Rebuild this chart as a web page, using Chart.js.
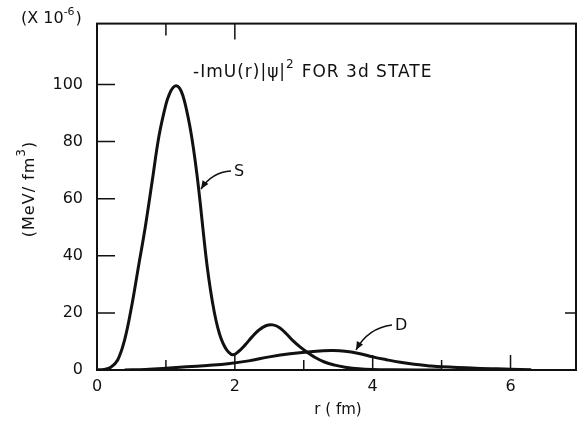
<!DOCTYPE html>
<html>
<head>
<meta charset="utf-8">
<script src="https://cdn.jsdelivr.net/npm/chart.js@4.4.1/dist/chart.umd.min.js"></script>
<style>
  html, body { margin: 0; padding: 0; background: #fff; }
  #wrap { width: 583px; height: 423px; }
</style>
</head>
<body>
<div id="wrap"><canvas id="chart" width="583" height="423"></canvas></div>
<script>
// S curve: r (fm) and -ImU|psi|^2 (x 10^-6 MeV/fm^3)
const sR = [0, 0.1, 0.2, 0.3, 0.4, 0.5, 0.6, 0.7, 0.8, 0.9, 1.0, 1.05, 1.1, 1.15, 1.2, 1.25, 1.3, 1.35, 1.4, 1.45, 1.5, 1.55, 1.6, 1.65, 1.7, 1.75, 1.8, 1.85, 1.9, 1.97, 2.05, 2.15, 2.25, 2.35, 2.45, 2.55, 2.65, 2.75, 2.85, 2.95, 3.05, 3.15, 3.3, 3.45, 3.6, 3.8, 4.0, 4.3, 5.0];
const sVal = [0, 0.2, 1.0, 3.5, 10.5, 22, 36, 50, 66, 82, 93, 96.6, 98.8, 99.5, 98.6, 95.8, 91, 85, 77.5, 68.5, 58, 46.5, 36, 27.5, 20.5, 15, 11, 8.3, 6.5, 5.3, 6.4, 8.8, 11.6, 14, 15.5, 15.8, 14.8, 12.6, 10.1, 8, 6.2, 4.6, 2.8, 1.7, 1.0, 0.4, 0.15, 0.05, 0];

// D curve
const dR = [0.4, 0.7, 1.0, 1.3, 1.6, 1.9, 2.2, 2.5, 2.8, 3.1, 3.4, 3.6, 3.8, 4.0, 4.2, 4.4, 4.6, 4.8, 5.0, 5.5, 6.0, 6.3];
const dVal = [0, 0.2, 0.6, 1.1, 1.6, 2.2, 3.2, 4.6, 5.7, 6.4, 6.8, 6.6, 5.8, 4.6, 3.6, 2.7, 2.0, 1.5, 1.1, 0.6, 0.3, 0.1];

const xTickLabels = [0, 2, 4, 6];
const yTickLabels = [0, 20, 40, 60, 80, 100];

const toPoints = (xs, ys) => xs.map((x, i) => ({ x: x, y: ys[i] }));

const FONT = '"DejaVu Sans", sans-serif';

const decor = {
    id: 'decor',
    afterDraw(chart) {
        const ctx = chart.ctx;
        const a = chart.chartArea;
        const xs = chart.scales.x;
        const ys = chart.scales.y;
        ctx.save();
        ctx.strokeStyle = '#111';
        ctx.fillStyle = '#111';

        // frame
        ctx.lineWidth = 2;
        ctx.strokeRect(a.left, a.top, a.right - a.left, a.bottom - a.top);

        // inward ticks
        ctx.lineWidth = 1.5;
        ctx.beginPath();
        [20, 40, 60, 80, 100].forEach(v => {
            const y = ys.getPixelForValue(v);
            ctx.moveTo(a.left, y); ctx.lineTo(a.left + 18, y);
        });
        [1, 2, 3, 4, 5, 6].forEach(v => {
            const x = xs.getPixelForValue(v);
            const len = v % 2 === 0 ? 15 : 10;
            ctx.moveTo(x, a.bottom); ctx.lineTo(x, a.bottom - len);
        });
        [1, 2].forEach(v => {
            const x = xs.getPixelForValue(v);
            const len = v % 2 === 0 ? 16 : 12;
            ctx.moveTo(x, a.top); ctx.lineTo(x, a.top + len);
        });
        const y20 = ys.getPixelForValue(20);
        ctx.moveTo(a.right, y20); ctx.lineTo(a.right - 11, y20);
        ctx.stroke();

        // arrows
        function arrow(x0, y0, cx, cy, x1, y1) {
            ctx.lineWidth = 1.5;
            ctx.beginPath();
            ctx.moveTo(x0, y0);
            ctx.quadraticCurveTo(cx, cy, x1, y1);
            ctx.stroke();
            const ang = Math.atan2(y1 - cy, x1 - cx);
            ctx.beginPath();
            ctx.moveTo(x1, y1);
            ctx.lineTo(x1 - 9 * Math.cos(ang - 0.4), y1 - 9 * Math.sin(ang - 0.4));
            ctx.lineTo(x1 - 9 * Math.cos(ang + 0.4), y1 - 9 * Math.sin(ang + 0.4));
            ctx.closePath();
            ctx.fill();
        }
        arrow(231, 171, 212, 172, 201, 189);
        arrow(392, 325, 368, 328, 356, 350);

        ctx.textBaseline = 'middle';
        ctx.textAlign = 'left';
        ctx.font = '16px ' + FONT;
        ctx.fillText('S', 234, 172);
        ctx.fillText('D', 395, 326);

        // title
        ctx.letterSpacing = '1px';
        ctx.font = '17px ' + FONT;
        let t1 = '-ImU(r)|\u03c8|';
        let x = 193;
        ctx.fillText(t1, x, 73);
        x += ctx.measureText(t1).width;
        ctx.font = '12px ' + FONT;
        ctx.fillText('2', x, 65);
        x += ctx.measureText('2').width + 7;
        ctx.font = '17px ' + FONT;
        ctx.fillText('FOR 3d STATE', x, 73);

        // multiplier
        ctx.letterSpacing = '0px';
        ctx.font = '16px ' + FONT;
        x = 21;
        ctx.fillText('(X 10', x, 19);
        x += ctx.measureText('(X 10').width;
        ctx.font = '11px ' + FONT;
        ctx.fillText('-6', x, 12);
        x += ctx.measureText('-6').width + 1;
        ctx.font = '16px ' + FONT;
        ctx.fillText(')', x, 19);

        // x title
        ctx.font = '15px ' + FONT;
        ctx.textAlign = 'center';
        ctx.fillText('r ( fm)', 338, 410);

        // y title
        ctx.save();
        ctx.translate(30, 189);
        ctx.rotate(-Math.PI / 2);
        ctx.textAlign = 'left';
        ctx.letterSpacing = '1px';
        ctx.font = '16px ' + FONT;
        const p1 = '(MeV/ fm';
        const w1 = ctx.measureText(p1).width;
        ctx.font = '12px ' + FONT;
        const w2 = ctx.measureText('3').width;
        ctx.font = '16px ' + FONT;
        const w3 = ctx.measureText(')').width;
        let sx = -(w1 + w2 + w3) / 2;
        ctx.fillText(p1, sx, 0);
        sx += w1;
        ctx.font = '12px ' + FONT;
        ctx.fillText('3', sx, -8);
        sx += w2;
        ctx.font = '16px ' + FONT;
        ctx.fillText(')', sx, 0);
        ctx.restore();

        ctx.restore();
    }
};

new Chart(document.getElementById('chart'), {
    type: 'line',
    data: {
        datasets: [
            {
                label: 'S',
                data: toPoints(sR, sVal),
                borderColor: '#111',
                borderWidth: 3,
                pointRadius: 0,
                tension: 0.4,
                fill: false,
            },
            {
                label: 'D',
                data: toPoints(dR, dVal),
                borderColor: '#111',
                borderWidth: 3,
                pointRadius: 0,
                tension: 0.4,
                fill: false,
            },
        ],
    },
    options: {
        responsive: false,
        animation: false,
        layout: { padding: { left: 0, top: 20, right: 7, bottom: 0 } },
        plugins: {
            legend: { display: false },
            tooltip: { enabled: false },
        },
        scales: {
            x: {
                type: 'linear',
                min: 0,
                max: 6.95,
                grid: { display: false, drawTicks: false },
                border: { display: false },
                afterFit: s => { s.height = 53; },
                ticks: {
                    stepSize: 1,
                    padding: 7,
                    color: '#111',
                    font: { family: FONT, size: 16 },
                    maxRotation: 0,
                    autoSkip: false,
                    callback: v => xTickLabels.includes(v) ? String(v) : '',
                },
            },
            y: {
                min: 0,
                max: 121.3,
                grid: { display: false, drawTicks: false },
                border: { display: false },
                afterFit: s => { s.width = 97; },
                ticks: {
                    stepSize: 20,
                    padding: 14,
                    color: '#111',
                    font: { family: FONT, size: 16 },
                    autoSkip: false,
                    callback: v => yTickLabels.includes(v) ? String(v) : '',
                },
            },
        },
    },
    plugins: [decor],
});
</script>
</body>
</html>
